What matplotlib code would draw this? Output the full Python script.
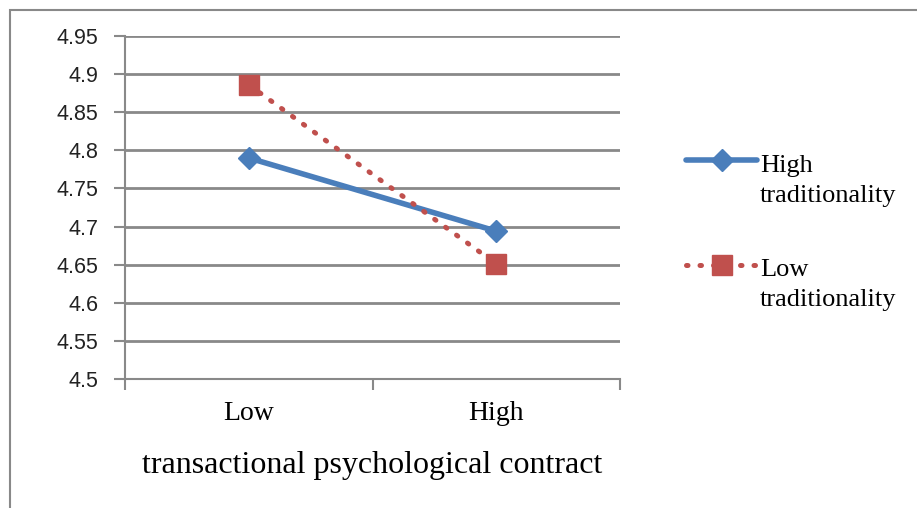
import matplotlib.pyplot as plt
from matplotlib.patches import Rectangle
from matplotlib.legend_handler import HandlerLine2D

# datos
categorias = ['Low', 'High']
alta_trad = [4.79, 4.694]
baja_trad = [4.886, 4.651]
y_ticks = [4.5, 4.55, 4.6, 4.65, 4.7, 4.75, 4.8, 4.85, 4.9, 4.95]
y_labels = ['4.5', '4.55', '4.6', '4.65', '4.7', '4.75', '4.8', '4.85', '4.9', '4.95']

gris = '#898989'
azul = '#4a7ebb'
rojo = '#c0504d'


# el simbolo de la leyenda va alineado con la primera linea del texto
class HandlerArriba(HandlerLine2D):
    def create_artists(self, legend, orig_handle, xdescent, ydescent, width, height, fontsize, trans):
        artistas = super().create_artists(legend, orig_handle, xdescent, ydescent, width, height, fontsize, trans)
        for a in artistas:
            a.set_ydata([y + 0.75 * fontsize for y in a.get_ydata()])
        return artistas


fig = plt.figure(figsize=(9.17, 5.08), dpi=100)
# marco exterior
fig.patches.append(Rectangle((10/917, -0.01), 1.2, 1 - 10/508 + 0.01, transform=fig.transFigure,
                             fill=False, edgecolor=gris, linewidth=1.5))

ax = fig.add_axes([125/917, 1 - 379/508, 495/917, 343/508])
x = [0.5, 1.5]
l1, = ax.plot(x, alta_trad, color=azul, linewidth=4, marker='D', markersize=11,
              label='High\ntraditionality', solid_capstyle='round')
l2, = ax.plot(x, baja_trad, color=rojo, linewidth=3.6, linestyle=(0, (0.3, 2.4)), dash_capstyle='round',
              marker='s', markersize=14, label='Low\ntraditionality')

ax.set_xlim(0, 2)
ax.set_ylim(4.5, 4.95)
ax.set_yticks(y_ticks)
ax.set_yticklabels(y_labels, fontsize=15.5, family='Liberation Sans', color='#222222')
ax.set_xticks([0, 1, 2])
ax.set_xticklabels([])
ax.set_xticks(x, minor=True)
ax.set_xticklabels(categorias, minor=True, fontsize=20, family='Liberation Serif')
ax.tick_params(axis='x', which='minor', length=0, pad=16)
ax.tick_params(axis='x', which='major', length=8, color=gris, width=1.5)
ax.tick_params(axis='y', length=8, color=gris, width=1.5, pad=11)
ax.grid(axis='y', color=gris, linewidth=2)
ax.set_axisbelow(True)
for s in ['top', 'right']:
    ax.spines[s].set_visible(False)
for s in ['left', 'bottom']:
    ax.spines[s].set_color(gris)
    ax.spines[s].set_linewidth(1.5)
ax.set_xlabel('transactional psychological contract', fontsize=23, family='Liberation Serif', labelpad=18)

leg = fig.legend(handles=[l1, l2], loc='upper left', bbox_to_anchor=(686/917, 1 - 155/508), frameon=False,
                 prop={'family': 'Liberation Serif', 'size': 19}, handlelength=2.7,
                 handletextpad=0.1, labelspacing=2.0, borderpad=0, borderaxespad=0,
                 handler_map={l1: HandlerArriba(), l2: HandlerArriba()})
for t in leg.get_texts():
    t.set_linespacing(1.45)

fig.savefig('out.png', dpi=100)
